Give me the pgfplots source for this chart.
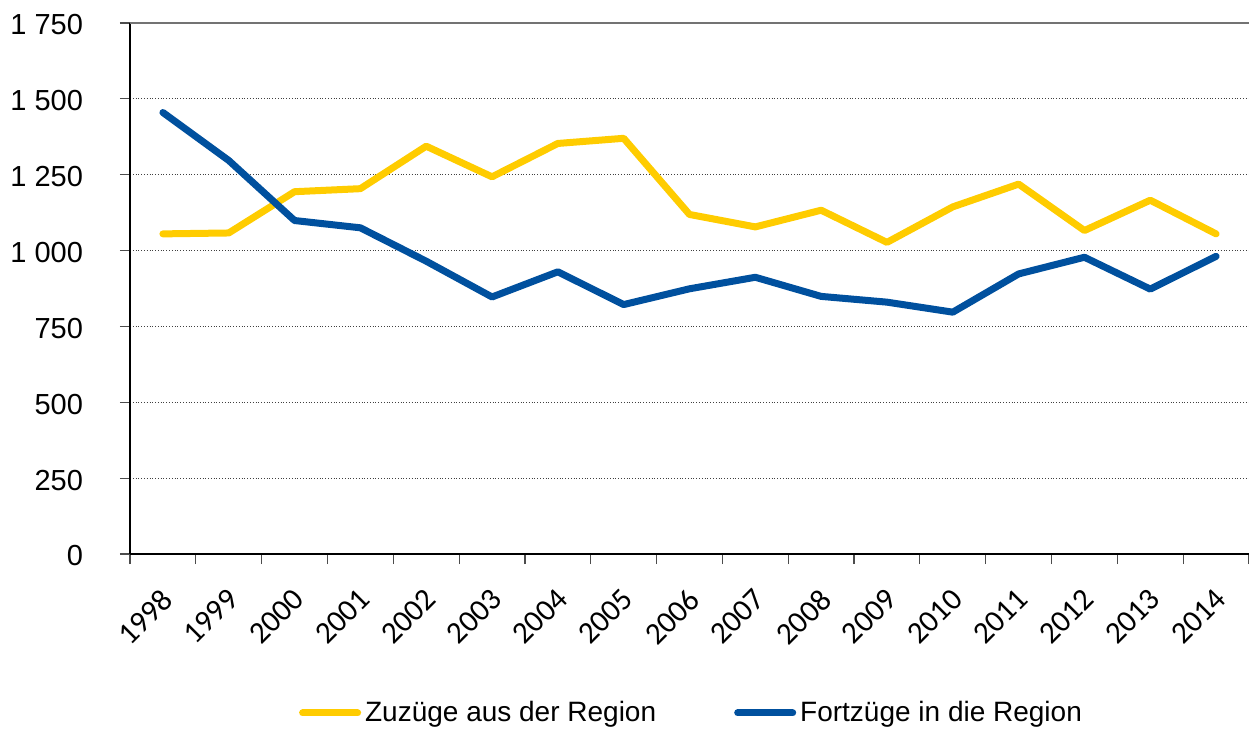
\documentclass[border=0pt]{standalone}
\usepackage{pgfplots}
\pgfplotsset{compat=1.18}
\usepackage{fontspec}
\setmainfont{Liberation Sans}
\newfontfamily\carlito{Carlito}
\definecolor{zuyellow}{RGB}{255,204,0}
\definecolor{fortblue}{RGB}{0,80,158}
\pgfplotstableread{
x zu fort
0 1055 1455
1 1058 1297
2 1194 1099
3 1204 1075
4 1344 965
5 1243 847
6 1353 930
7 1370 822
8 1119 874
9 1078 912
10 1133 849
11 1027 830
12 1144 797
13 1219 923
14 1066 978
15 1166 873
16 1055 981
}\datatable
\begin{document}
\begin{tikzpicture}
\path[use as bounding box] (0,0) rectangle (624.5bp,364.5bp);
\begin{axis}[
  scale only axis,
  width=559.5bp, height=265.5bp,
  at={(65bp,87.5bp)}, anchor=south west,
  xmin=-0.5, xmax=16.5,
  ymin=0, ymax=1750,
  axis x line*=bottom, axis y line*=left,
  axis line style={black, line width=1bp},
  xtick={0,...,16},
  xticklabels={1998,1999,2000,2001,2002,2003,2004,2005,2006,2007,2008,2009,2010,2011,2012,2013,2014},
  minor xtick={-0.5,0.5,...,16.5},
  major x tick style={draw=none},
  ytick={0,250,...,1750},
  tick align=outside,
  major tick length=5bp, minor tick length=5bp,
  tick style={black!70, line width=0.6bp},
  ymajorgrids,
  grid style={densely dotted, black!75, line width=0.5bp},
  /pgf/number format/assume math mode=true,
  /pgf/number format/.cd, 1000 sep={\ }, /pgfplots/.cd,
  yticklabel style={font=\fontsize{14.5bp}{16bp}\selectfont, anchor=east, xshift=-15bp, yshift=-1bp},
  xticklabel style={font=\carlito\fontsize{15.5bp}{17bp}\selectfont, rotate=45, anchor=north east, inner sep=1bp, yshift=-6bp, xshift=-8bp},
  legend columns=2,
  legend style={at={(0.5027,-0.2994)}, anchor=center, draw=none,
    font=\fontsize{14bp}{16bp}\selectfont,
    /tikz/every even column/.append style={column sep=37bp},
    nodes={inner xsep=2bp, inner ysep=1bp}},
  legend image code/.code={\draw[#1, line cap=round] (0bp,0bp) -- (27.5bp,0bp);},
]
\addplot[zuyellow, line width=3.5bp, line cap=round, line join=round] table[x=x, y=zu] {\datatable};
\addlegendentry{Zuzüge aus der Region}
\addplot[fortblue, line width=3.5bp, line cap=round, line join=round] table[x=x, y=fort] {\datatable};
\addlegendentry{Fortzüge in die Region}
\draw[black!55, line width=1bp] (rel axis cs:0,1) -- (rel axis cs:1,1);
\end{axis}
\end{tikzpicture}
\end{document}
